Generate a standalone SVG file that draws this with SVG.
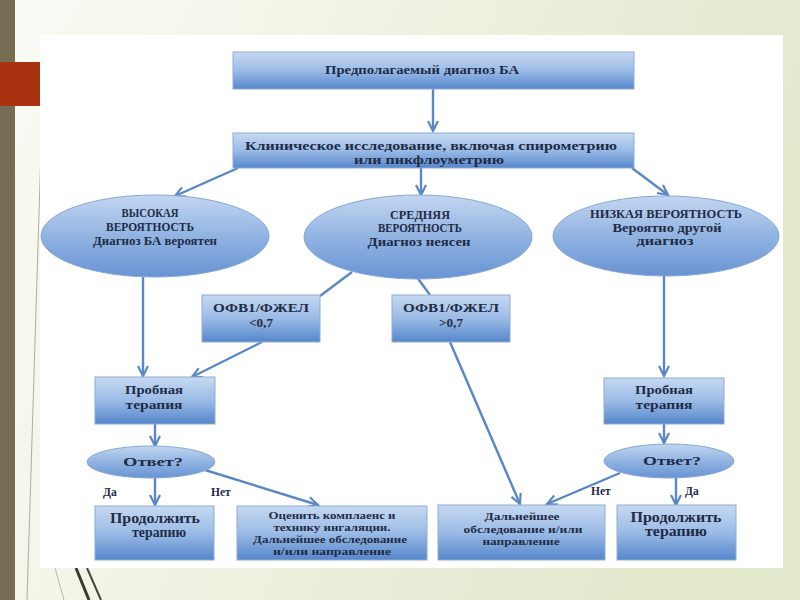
<svg xmlns="http://www.w3.org/2000/svg" width="800" height="600" viewBox="0 0 800 600">
<defs>
<linearGradient id="bg" x1="0" y1="0" x2="1" y2="0.3">
<stop offset="0" stop-color="#fbfbf6"/>
<stop offset="1" stop-color="#e1e8cc"/>
</linearGradient>
<linearGradient id="boxg" x1="0" y1="0" x2="0" y2="1">
<stop offset="0" stop-color="#c6d9f1"/>
<stop offset="0.5" stop-color="#9bbbe6"/>
<stop offset="1" stop-color="#5586cb"/>
</linearGradient>
<linearGradient id="ellg" x1="0" y1="0" x2="0" y2="1">
<stop offset="0" stop-color="#c3d6f1"/>
<stop offset="0.55" stop-color="#8db0e0"/>
<stop offset="1" stop-color="#6893d3"/>
</linearGradient>
<marker id="arr" markerUnits="userSpaceOnUse" markerWidth="14" markerHeight="14" refX="11" refY="6" orient="auto">
<path d="M1,1 L11,6 L1,11" fill="none" stroke="#5a87c5" stroke-width="2.2"/>
</marker>
</defs>
<style>
.box{fill:url(#boxg);stroke:#8eacd6;stroke-width:1}
.ell{fill:url(#ellg);stroke:#86a8d8;stroke-width:1}
.t{font-family:"Liberation Serif","DejaVu Serif",serif;font-weight:bold;fill:#1f2c46;text-anchor:middle}
.c{stroke:#5a87c5;stroke-width:2.4;fill:none}
.lb{font-family:"Liberation Serif","DejaVu Serif",serif;font-weight:bold;fill:#1f2c46;font-size:11.5px}
</style>
<rect x="0" y="0" width="800" height="600" fill="url(#bg)"/>
<rect x="0" y="0" width="15" height="600" fill="#766d52"/>
<rect x="0" y="62" width="41" height="44" fill="#a93311"/>
<line x1="41" y1="150" x2="27" y2="600" stroke="#9a9a90" stroke-width="0.8"/>
<line x1="55" y1="568" x2="64" y2="600" stroke="#b8b8ac" stroke-width="1"/>
<line x1="76" y1="568" x2="89" y2="600" stroke="#3f3b2c" stroke-width="3"/>
<line x1="87" y1="568" x2="101" y2="600" stroke="#4a4535" stroke-width="2"/>
<rect x="40" y="35" width="743" height="533" fill="#ffffff"/>

<g id="connectors">
<line class="c" x1="433" y1="89" x2="433" y2="131" marker-end="url(#arr)"/>
<line class="c" x1="238" y1="168" x2="175" y2="196" marker-end="url(#arr)"/>
<line class="c" x1="421" y1="168" x2="421" y2="195" marker-end="url(#arr)"/>
<line class="c" x1="632" y1="168" x2="668" y2="195" marker-end="url(#arr)"/>
<line class="c" x1="143" y1="277" x2="143" y2="376" marker-end="url(#arr)"/>
<line class="c" x1="664" y1="276" x2="664" y2="376" marker-end="url(#arr)"/>
<line class="c" x1="352" y1="272" x2="320" y2="296"/>
<line class="c" x1="414" y1="273" x2="430" y2="295"/>
<line class="c" x1="262" y1="342" x2="192" y2="377" marker-end="url(#arr)"/>
<line class="c" x1="450" y1="342" x2="520" y2="504" marker-end="url(#arr)"/>
<line class="c" x1="155" y1="424" x2="155" y2="446" marker-end="url(#arr)"/>
<line class="c" x1="664" y1="424" x2="664" y2="443" marker-end="url(#arr)"/>
<line class="c" x1="155" y1="477" x2="155" y2="505" marker-end="url(#arr)"/>
<line class="c" x1="205" y1="470" x2="318" y2="505" marker-end="url(#arr)"/>
<line class="c" x1="676" y1="478" x2="676" y2="505" marker-end="url(#arr)"/>
<line class="c" x1="620" y1="473" x2="547" y2="504" marker-end="url(#arr)"/>
</g>

<g id="n-top">
<rect class="box" x="233" y="52" width="401" height="37"/>
<text class="t" x="422" y="74" font-size="12.5" textLength="194" lengthAdjust="spacingAndGlyphs">Предполагаемый диагноз БА</text>
</g>
<g id="n-clinic">
<rect class="box" x="233" y="133" width="401" height="35"/>
<text class="t" x="431" y="150" font-size="12.5" textLength="372" lengthAdjust="spacingAndGlyphs">Клиническое исследование, включая спирометрию</text>
<text class="t" x="429" y="164" font-size="12.5" textLength="150" lengthAdjust="spacingAndGlyphs">или пикфлоуметрию</text>
</g>
<g id="n-high">
<ellipse class="ell" cx="155" cy="236" rx="114" ry="41"/>
<text class="t" x="150" y="217" font-size="11.5" textLength="57" lengthAdjust="spacingAndGlyphs">ВЫСОКАЯ</text>
<text class="t" x="150" y="231" font-size="11.5" textLength="88" lengthAdjust="spacingAndGlyphs">ВЕРОЯТНОСТЬ</text>
<text class="t" x="155" y="245" font-size="11.5" textLength="124" lengthAdjust="spacingAndGlyphs">Диагноз БА вероятен</text>
</g>
<g id="n-mid">
<ellipse class="ell" cx="418" cy="237" rx="114" ry="42"/>
<text class="t" x="420" y="219" font-size="11.5" textLength="60" lengthAdjust="spacingAndGlyphs">СРЕДНЯЯ</text>
<text class="t" x="420" y="232" font-size="11.5" textLength="84" lengthAdjust="spacingAndGlyphs">ВЕРОЯТНОСТЬ</text>
<text class="t" x="419" y="246" font-size="11.5" textLength="103" lengthAdjust="spacingAndGlyphs">Диагноз неясен</text>
</g>
<g id="n-low">
<ellipse class="ell" cx="666" cy="236" rx="113" ry="40"/>
<text class="t" x="666" y="218" font-size="11.5" textLength="152" lengthAdjust="spacingAndGlyphs">НИЗКАЯ ВЕРОЯТНОСТЬ</text>
<text class="t" x="667" y="232" font-size="11.5" textLength="109" lengthAdjust="spacingAndGlyphs">Вероятно другой</text>
<text class="t" x="665" y="245" font-size="11.5" textLength="57" lengthAdjust="spacingAndGlyphs">диагноз</text>
</g>
<g id="n-lt">
<rect class="box" x="202" y="295" width="118" height="47"/>
<text class="t" x="261" y="312" font-size="11.5" textLength="96" lengthAdjust="spacingAndGlyphs">ОФВ1/ФЖЕЛ</text>
<text class="t" x="261" y="327" font-size="11.5" textLength="24" lengthAdjust="spacingAndGlyphs">&lt;0,7</text>
</g>
<g id="n-gt">
<rect class="box" x="392" y="295" width="118" height="47"/>
<text class="t" x="451" y="312" font-size="11.5" textLength="96" lengthAdjust="spacingAndGlyphs">ОФВ1/ФЖЕЛ</text>
<text class="t" x="451" y="327" font-size="11.5" textLength="24" lengthAdjust="spacingAndGlyphs">&gt;0,7</text>
</g>
<g id="n-trial-l">
<rect class="box" x="95" y="377" width="120" height="47"/>
<text class="t" x="154" y="394" font-size="12" textLength="58" lengthAdjust="spacingAndGlyphs">Пробная</text>
<text class="t" x="154" y="409" font-size="12" textLength="57" lengthAdjust="spacingAndGlyphs">терапия</text>
</g>
<g id="n-trial-r">
<rect class="box" x="604" y="378" width="120" height="46"/>
<text class="t" x="664" y="394" font-size="12" textLength="58" lengthAdjust="spacingAndGlyphs">Пробная</text>
<text class="t" x="664" y="409" font-size="12" textLength="57" lengthAdjust="spacingAndGlyphs">терапия</text>
</g>
<g id="n-ans-l">
<ellipse class="ell" cx="151" cy="462" rx="64" ry="16"/>
<text class="t" x="153" y="466" font-size="12" textLength="60" lengthAdjust="spacingAndGlyphs">Ответ?</text>
</g>
<g id="n-ans-r">
<ellipse class="ell" cx="669" cy="461" rx="65" ry="17"/>
<text class="t" x="672" y="465" font-size="12" textLength="58" lengthAdjust="spacingAndGlyphs">Ответ?</text>
</g>
<text class="lb" x="103" y="496">Да</text>
<text class="lb" x="211" y="496">Нет</text>
<text class="lb" x="591" y="495">Нет</text>
<text class="lb" x="685" y="495">Да</text>
<g id="n-cont-l">
<rect class="box" x="95" y="506" width="119" height="54"/>
<text class="t" x="155" y="523" font-size="14" textLength="90" lengthAdjust="spacingAndGlyphs">Продолжить</text>
<text class="t" x="159" y="537" font-size="14" textLength="54" lengthAdjust="spacingAndGlyphs">терапию</text>
</g>
<g id="n-assess">
<rect class="box" x="237" y="506" width="190" height="54"/>
<text class="t" x="332" y="519" font-size="10" textLength="127" lengthAdjust="spacingAndGlyphs">Оценить комплаенс и</text>
<text class="t" x="332" y="531" font-size="10" textLength="117" lengthAdjust="spacingAndGlyphs">технику ингаляции.</text>
<text class="t" x="330" y="543" font-size="10" textLength="154" lengthAdjust="spacingAndGlyphs">Дальнейшее обследование</text>
<text class="t" x="332" y="555" font-size="10" textLength="118" lengthAdjust="spacingAndGlyphs">и/или направление</text>
</g>
<g id="n-further">
<rect class="box" x="438" y="505" width="167" height="55"/>
<text class="t" x="522" y="520" font-size="10" textLength="75" lengthAdjust="spacingAndGlyphs">Дальнейшее</text>
<text class="t" x="523" y="533" font-size="10" textLength="119" lengthAdjust="spacingAndGlyphs">обследование и/или</text>
<text class="t" x="521" y="545" font-size="10" textLength="77" lengthAdjust="spacingAndGlyphs">направление</text>
</g>
<g id="n-cont-r">
<rect class="box" x="617" y="505" width="119" height="55"/>
<text class="t" x="676" y="522" font-size="14" textLength="91" lengthAdjust="spacingAndGlyphs">Продолжить</text>
<text class="t" x="676" y="536" font-size="14" textLength="62" lengthAdjust="spacingAndGlyphs">терапию</text>
</g>
</svg>
